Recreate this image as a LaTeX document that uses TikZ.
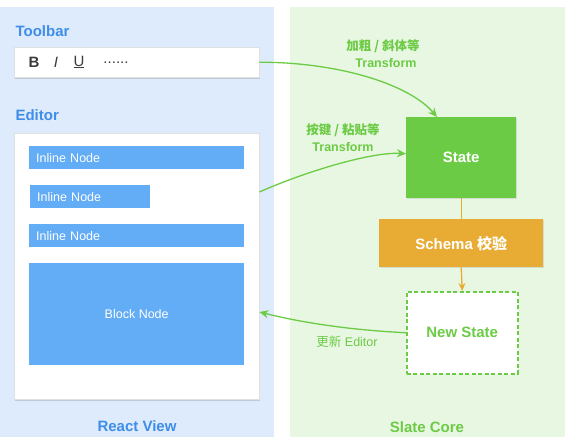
\documentclass[tikz,border=0pt]{standalone}
\usepackage{fontspec}
\setmainfont{Liberation Sans}
\newfontfamily\cjk{Noto Sans CJK SC}
\usetikzlibrary{shadows,arrows.meta}
\definecolor{viewbg}{RGB}{221,235,252}
\definecolor{corebg}{RGB}{232,247,226}
\definecolor{viewblue}{RGB}{62,141,232}
\definecolor{nodeblue}{RGB}{99,172,246}
\definecolor{coregreen}{RGB}{108,203,69}
\definecolor{schemaorange}{RGB}{232,172,52}
\definecolor{tooltext}{RGB}{60,60,60}
\tikzset{
  paneltitle/.style={font=\fontsize{15}{18}\selectfont\bfseries},
  whitebox/.style={draw=black!12,fill=white,anchor=north west,inner sep=0pt,
    drop shadow={shadow xshift=0.6pt,shadow yshift=-1.5pt,opacity=0.3}},
  tool/.style={text=tooltext,font=\fontsize{15}{18}\selectfont},
  inline/.style={fill=nodeblue,text=white,anchor=north west,minimum height=23pt,
    inner xsep=7pt,inner ysep=0pt,align=left,font=\fontsize{12.5}{15}\selectfont},
  corebox/.style={anchor=north west,inner sep=0pt,text=white,
    font=\fontsize{15}{18}\selectfont\bfseries,
    drop shadow={shadow xshift=0.5pt,shadow yshift=-1pt,opacity=0.2}},
  flow/.style={->,draw=coregreen,line width=1.3pt},
  flowtext/.style={text=coregreen,font=\fontsize{12.5}{15}\selectfont\bfseries},
}
\begin{document}
\begin{tikzpicture}[x=1pt,y=-1pt,>={Stealth[length=9pt,width=8pt]}]
   \useasboundingbox (0,0) rectangle (571,437);
   % 背景
   \fill[viewbg] (0,7) rectangle (274,437);
   \fill[corebg] (290,7) rectangle (565,437);

   % React View
   \node[paneltitle,text=viewblue,anchor=west] (toolbartitle) at (12,31) {Toolbar};
   \node[whitebox,minimum width=245pt,minimum height=30pt] (toolbar) at (14,47) {};
   \node[tool] (bold) at (34,62) {\bfseries B};
   \node[tool] (italic) at (56,62) {\itshape I};
   \node[tool] (under) at (79,62) {\underline{U}};
   \node[tool] (more) at (116,63) {......};

   \node[paneltitle,text=viewblue,anchor=west] (editortitle) at (12,115) {Editor};
   \node[whitebox,minimum width=245pt,minimum height=266pt] (editor) at (14,133) {};
   \node[inline,text width=201pt] (inlineA) at (29,146) {Inline Node};
   \node[inline,text width=106pt] (inlineB) at (30,185) {Inline Node};
   \node[inline,text width=201pt] (inlineC) at (29,224) {Inline Node};
   \node[fill=nodeblue,text=white,anchor=north west,minimum width=215pt,minimum height=102pt,
     font=\fontsize{12.5}{15}\selectfont] (block) at (29,263) {Block Node};

   \node[paneltitle,text=viewblue] (viewtitle) at (137,426) {React View};

   % Slate Core
   \node[corebox,fill=coregreen,minimum width=110pt,minimum height=81pt] (state) at (406,117) {State};
   \node[corebox,fill=schemaorange,minimum width=164pt,minimum height=48pt] (schema) at (379,219) {Schema {\cjk 校验}};
   \node[anchor=north west,inner sep=0pt,fill=white,draw=coregreen,line width=1.5pt,
     dash pattern=on 4pt off 2.5pt,minimum width=111pt,minimum height=82pt,
     text=coregreen,font=\fontsize{15}{18}\selectfont\bfseries] (newstate) at (406,291) {New State};

   \node[paneltitle,text=coregreen] (coretitle) at (427,427) {Slate Core};

   % 矢印
   \draw[schemaorange,line width=1.3pt] (state.south) -- (schema.north);
   \draw[schemaorange,line width=1.3pt,->,>={Stealth[length=8pt,width=7pt]}] (schema.south) -- (newstate.north);

   \draw[flow] (toolbar.east) .. controls +(81,0) and +(-27,-32) .. ([xshift=31pt]state.north west);
   \node[flowtext] (boldtext) at (383,46) {\cjk 加粗 / 斜体等};
   \node[flowtext] (boldtf) at (386,63) {Transform};

   \draw[flow] ([yshift=-59pt]editor.north east) .. controls +(45,-20) and +(-35,-2) .. ([yshift=4pt]state.west);
   \node[flowtext] (keytext) at (343,130) {\cjk 按键 / 粘贴等};
   \node[flowtext] (keytf) at (343,147) {Transform};

   \draw[flow] (newstate.west) .. controls +(-60,-3) and +(40,10) .. ([yshift=-179pt]editor.north east);
   \node[flowtext,font=\fontsize{12.5}{15}\selectfont] (updatetext) at (347,342) {{\cjk 更新} Editor};
\end{tikzpicture}
\end{document}
